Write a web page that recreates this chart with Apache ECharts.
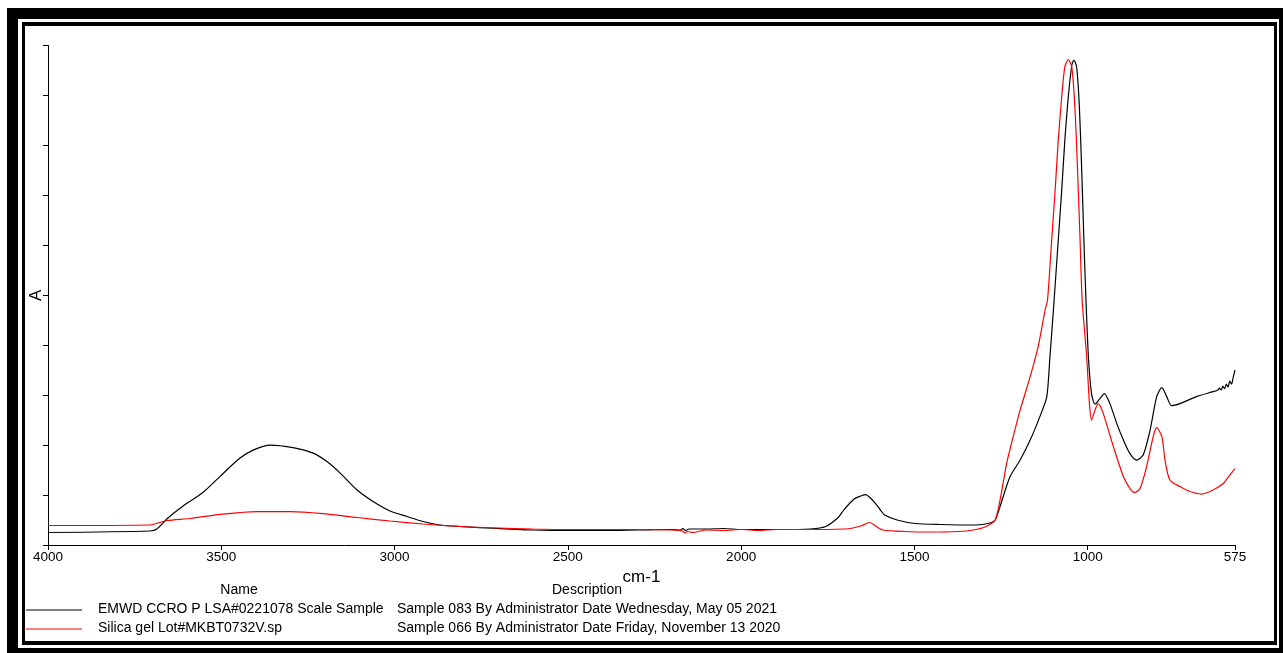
<!DOCTYPE html>
<html lang="en">
<head>
    <meta charset="UTF-8">
    <title>IR Spectrum</title>
    <script src="https://cdn.jsdelivr.net/npm/echarts@6/dist/echarts.min.js"></script>
    <style>
        html, body { margin: 0; padding: 0; background: #fff; }
        #chart { width: 1283px; height: 653px; }
    </style>
</head>
<body>
    <div id="chart"></div>

    <script>
        // x tick labels (cm-1), axis runs 4000 -> 575
        const xTicks = [4000, 3500, 3000, 2500, 2000, 1500, 1000, 575];

        // EMWD sample spectrum [cm-1, A]
        const emwd = [
            [4000,0.25],[3706,0.28],[3686,0.32],[3654,0.54],[3610,0.78],[3553,1.05],[3504,1.37],
            [3446,1.74],[3408,1.90],[3359,2.00],[3293,1.95],[3235,1.84],[3195,1.67],[3157,1.44],
            [3108,1.10],[3062,0.87],[3013,0.68],[2964,0.57],[2918,0.47],[2869,0.40],[2811,0.37],
            [2700,0.33],[2600,0.30],[2500,0.29],[2400,0.29],[2300,0.30],[2200,0.31],[2175,0.30],
            [2168,0.33],[2160,0.29],[2150,0.32],[2100,0.32],[2050,0.33],[2000,0.31],[1900,0.31],
            [1800,0.32],[1756,0.37],[1720,0.55],[1704,0.70],[1674,0.92],[1655,0.98],[1641,1.01],
            [1630,0.96],[1612,0.83],[1598,0.70],[1586,0.60],[1550,0.50],[1498,0.43],[1426,0.41],
            [1323,0.40],[1282,0.44],[1267,0.50],[1253,0.77],
            [1224,1.37],[1195,1.70],[1166,2.10],[1138,2.57],[1118,2.97],[1109,3.77],[1099,4.70],
            [1085,6.10],[1075,7.10],[1066,8.10],[1056,8.97],[1046,9.60],[1040,9.71],[1032,9.57],
            [1024,8.77],[1017,7.44],[1011,6.10],[1005,4.90],[998,3.77],[989,3.03],[979,2.82],
            [965,2.93],[952,3.03],[936,2.83],[916,2.43],[897,2.10],[878,1.83],[859,1.70],
            [840,1.80],[820,2.30],[801,2.97],[786,3.15],[772,2.97],[758,2.79],[734,2.83],
            [686,2.97],[638,3.07],[625,3.10],[620,3.14],[615,3.10],[610,3.18],[605,3.13],
            [600,3.22],[595,3.16],[590,3.28],[585,3.22],[580,3.36],[575,3.50]
        ];

        // Silica gel reference spectrum [cm-1, A]
        const silica = [
            [4000,0.39],[3706,0.40],[3657,0.49],[3590,0.53],[3495,0.62],[3397,0.67],[3302,0.67],
            [3207,0.63],[3108,0.55],[3013,0.48],[2918,0.42],[2811,0.37],[2700,0.34],[2600,0.32],
            [2500,0.31],[2400,0.31],[2300,0.31],[2200,0.30],[2170,0.28],[2162,0.24],[2155,0.27],
            [2140,0.25],[2100,0.30],[2050,0.29],[2000,0.31],[1950,0.29],[1900,0.31],[1800,0.31],
            [1700,0.32],[1684,0.33],[1655,0.38],[1629,0.45],[1610,0.37],[1591,0.30],[1530,0.27],
            [1450,0.26],[1374,0.27],[1330,0.30],[1293,0.37],[1267,0.50],[1253,0.90],[1234,1.63],
            [1215,2.17],[1195,2.70],[1166,3.37],[1143,3.97],[1123,4.70],[1116,4.90],[1104,6.10],
            [1094,7.10],[1085,8.10],[1075,8.97],[1066,9.57],[1056,9.72],[1046,9.57],[1037,8.77],
            [1029,7.44],[1022,6.10],[1016,4.90],[1003,3.77],[995,2.83],[989,2.50],[979,2.70],
            [970,2.83],[955,2.63],[926,1.97],[897,1.37],[878,1.13],[864,1.05],[849,1.13],
            [830,1.57],[811,2.17],[801,2.35],[786,2.17],[777,1.70],[763,1.30],[734,1.17],
            [705,1.07],[671,1.02],[638,1.10],[609,1.23],[590,1.40],[575,1.53]
        ];

        const seriesNames = ['EMWD CCRO P LSA#0221078 Scale Sample', 'Silica gel Lot#MKBT0732V.sp'];
        const seriesDesc = [
            'Sample 083 By Administrator Date Wednesday, May 05 2021',
            'Sample 066 By Administrator Date Friday, November 13 2020'
        ];
        const seriesColors = ['#000000', '#ff0000'];

        const font = 'Liberation Sans, Arial, sans-serif';

        // frame and legend table drawn as graphics
        const graphics = [
            { type: 'rect', z: -10, shape: { x: 7, y: 8, width: 1276, height: 645 }, style: { fill: '#000' } },
            { type: 'rect', z: -9, shape: { x: 18, y: 19, width: 1261, height: 629 }, style: { fill: '#fff' } },
            { type: 'rect', z: -8, shape: { x: 22, y: 22, width: 1255, height: 623 }, style: { fill: '#000' } },
            { type: 'rect', z: -7, shape: { x: 25, y: 26, width: 1249, height: 615 }, style: { fill: '#fff' } },
            { type: 'text', x: 239, y: 590, style: { text: 'Name', font: '14px ' + font, fill: '#000', align: 'center', verticalAlign: 'middle' } },
            { type: 'text', x: 587, y: 590, style: { text: 'Description', font: '14px ' + font, fill: '#000', align: 'center', verticalAlign: 'middle' } }
        ];
        seriesNames.forEach((name, i) => {
            const y = 610 + i * 19;
            graphics.push(
                { type: 'line', shape: { x1: 26, y1: y, x2: 82, y2: y }, style: { stroke: seriesColors[i], lineWidth: 1 } },
                { type: 'text', x: 98, y: y - 1, style: { text: name, font: '14px ' + font, fill: '#000', verticalAlign: 'middle' } },
                { type: 'text', x: 397, y: y - 1, style: { text: seriesDesc[i], font: '14px ' + font, fill: '#000', verticalAlign: 'middle' } }
            );
        });

        const chart = echarts.init(document.getElementById('chart'), null, { renderer: 'canvas' });
        chart.setOption({
            animation: false,
            backgroundColor: '#fff',
            textStyle: { fontFamily: font },
            grid: { left: 48, right: 48, top: 45.5, bottom: 108, containLabel: false },
            xAxis: {
                type: 'value',
                inverse: true,
                min: 575,
                max: 4000,
                name: 'cm-1',
                nameLocation: 'middle',
                nameGap: 19,
                nameTextStyle: { fontSize: 17, color: '#000', verticalAlign: 'top' },
                axisLine: { lineStyle: { color: '#000', width: 1 } },
                axisTick: { show: true, length: 5, lineStyle: { color: '#000' }, customValues: xTicks },
                axisLabel: {
                    color: '#000', fontSize: 13.5, margin: 5, customValues: xTicks,
                    formatter: v => String(v)
                },
                splitLine: { show: false }
            },
            yAxis: {
                type: 'value',
                min: 0,
                max: 10,
                interval: 1,
                name: 'A',
                nameLocation: 'middle',
                nameGap: 3,
                nameTextStyle: { fontSize: 17, color: '#000' },
                axisLine: { show: true, lineStyle: { color: '#000', width: 1 } },
                axisTick: { show: true, length: 5, lineStyle: { color: '#000' } },
                axisLabel: { show: false },
                splitLine: { show: false }
            },
            series: [
                {
                    name: seriesNames[0],
                    type: 'line',
                    data: emwd,
                    showSymbol: false,
                    smooth: 0.25,
                    lineStyle: { color: seriesColors[0], width: 1.2 },
                    itemStyle: { color: seriesColors[0] }
                },
                {
                    name: seriesNames[1],
                    type: 'line',
                    data: silica,
                    showSymbol: false,
                    smooth: 0.25,
                    lineStyle: { color: seriesColors[1], width: 1.2 },
                    itemStyle: { color: seriesColors[1] }
                }
            ],
            graphic: graphics
        });
    </script>
</body>
</html>
